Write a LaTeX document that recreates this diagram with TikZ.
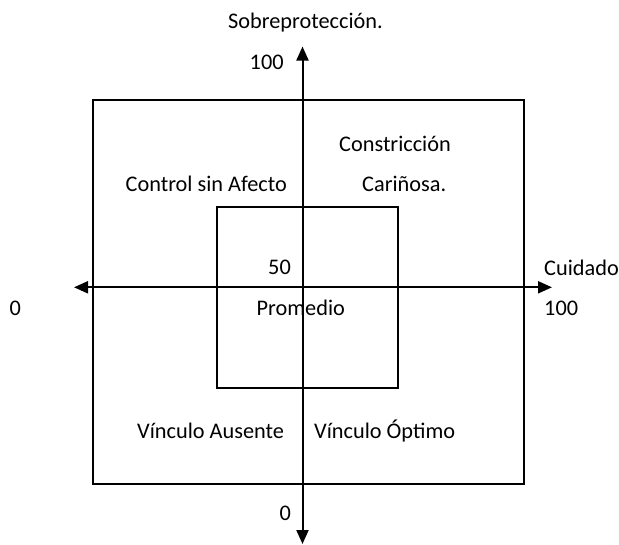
\documentclass[tikz,border=0pt]{standalone}
\usepackage{fontspec}
\setmainfont{Carlito}
\usetikzlibrary{arrows.meta}
\begin{document}
\begin{tikzpicture}[x=1pt,y=-1pt,
  lbl/.style={anchor=base west,inner sep=0pt,font=\fontsize{22.3}{26}\selectfont},
  boxline/.style={draw,line width=2pt,inner sep=0pt},
  axis/.style={line width=2pt,-{Triangle[length=14pt,width=12pt]}}]
\useasboundingbox (0,0) rectangle (619,544);
% boxes
\node[boxline,minimum width=431.5pt,minimum height=384pt] (outer) at (308.25,291.5) {};
\node[boxline,minimum width=181pt,minimum height=181.5pt] (inner) at (307.2,297.7) {};
% axes
\coordinate (vtop) at (302.5,46.5);
\coordinate (vbot) at (302.5,544);
\coordinate (hleft) at (74,287.3);
\coordinate (hright) at (552,287.3);
\coordinate (origin) at (302.5,287.3);
\draw[axis] (origin) -- (vtop);
\draw[axis] (origin) -- (vbot);
\draw[axis] (origin) -- (hleft);
\draw[axis] (origin) -- (hright);
% labels
\node[lbl] (sobre) at (228,28.3) {Sobreprotección.};
\node[lbl] (y100) at (249.5,69) {100};
\node[lbl] (constr) at (339,151.7) {Constricción};
\node[lbl] (control) at (125.5,191.7) {Control sin Afecto};
\node[lbl] (carin) at (362,191.7) {Cariñosa.};
\node[lbl] (y50) at (268,274.3) {50};
\node[lbl] (cuid) at (544,275) {Cuidado};
\node[lbl] (x0) at (9.5,315) {0};
\node[lbl] (prom) at (256.5,315) {Promedio};
\node[lbl] (x100) at (544,315) {100};
\node[lbl] (vaus) at (137,438.3) {Vínculo Ausente};
\node[lbl] (vopt) at (314,438.3) {Vínculo Óptimo};
\node[lbl] (y0) at (279.5,520) {0};
\end{tikzpicture}
\end{document}
